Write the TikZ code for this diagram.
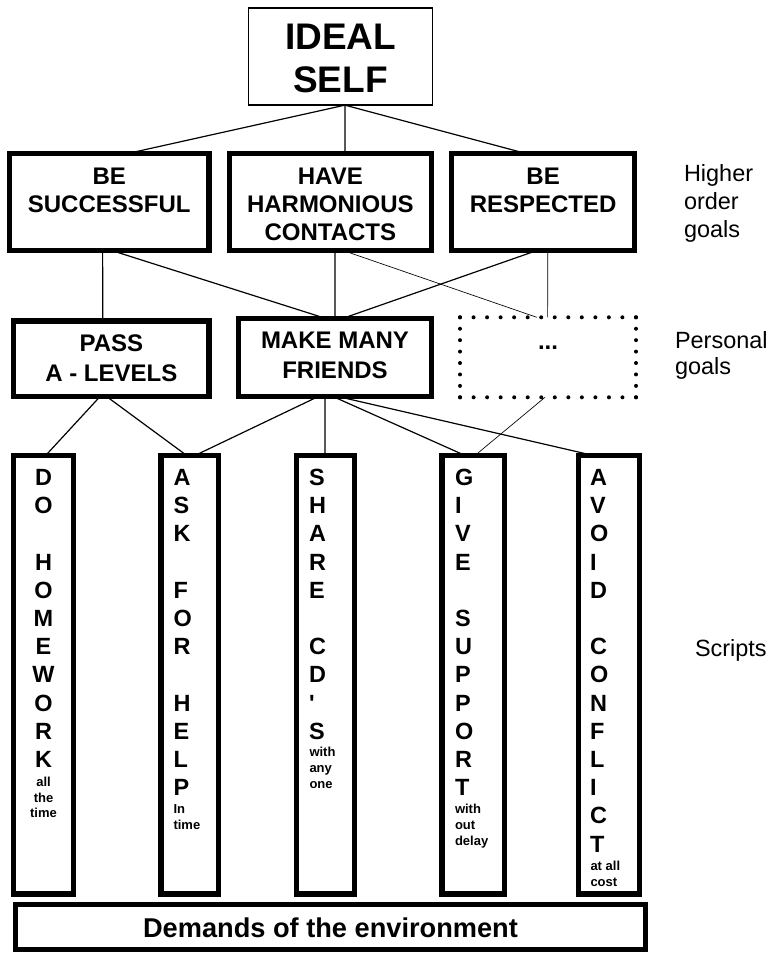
\documentclass[tikz,border=0pt]{standalone}
\usepackage{fontspec}
\setmainfont{Liberation Sans}
\usetikzlibrary{calc}
\newcommand\PX{0.75pt}
\newcommand\cstack[2]{\vtop{\baselineskip=#1\relax\lineskiplimit=-100pt\halign{\hfil##\hfil\cr#2\crcr}}}
\newcommand\lstack[2]{\vtop{\baselineskip=#1\relax\lineskiplimit=-100pt\halign{##\hfil\cr#2\crcr}}}
\begin{document}
\begin{tikzpicture}[x=0.75pt,y=-0.75pt,
  gbox/.style={draw, line width=4.1pt, rectangle, inner sep=0pt, outer sep=0pt},
  ibox/.style={draw, line width=1.25pt, rectangle, inner sep=0pt, outer sep=0pt},
  conn/.style={line width=0.9pt},
  thinconn/.style={line width=0.5pt},
  dotside/.style={line width=3pt, line cap=round},
  bigtxt/.style={inner sep=0pt, outer sep=0pt, font=\bfseries\fontsize{27.75}{32.5}\selectfont, anchor=base},
  ctxt/.style={inner sep=0pt, outer sep=0pt, font=\bfseries\fontsize{18}{21}\selectfont, anchor=base},
  coltxt/.style={inner sep=0pt, outer sep=0pt, font=\bfseries\fontsize{17.6}{21.15}\selectfont},
  smalltxt/.style={inner sep=0pt, outer sep=0pt, font=\bfseries\fontsize{9.75}{12}\selectfont},
  sidetxt/.style={inner sep=0pt, outer sep=0pt, font=\fontsize{17.6}{20.5}\selectfont, anchor=base west},
  demtxt/.style={inner sep=0pt, outer sep=0pt, font=\bfseries\fontsize{20.4}{24}\selectfont, anchor=base}
]
\useasboundingbox (0,0) rectangle (773,953);

% ---- boxes ----
\node[ibox, minimum width=183.9*\PX, minimum height=97*\PX] (ideal) at (340.5,56.65) {};
\node[gbox, minimum width=199.5*\PX, minimum height=97.1*\PX] (bs) at (109.2,202) {};
\node[gbox, minimum width=201.8*\PX, minimum height=97.1*\PX] (hhc) at (330.35,202) {};
\node[gbox, minimum width=182.8*\PX, minimum height=97.1*\PX] (br) at (543.15,202) {};
\node[gbox, minimum width=195.2*\PX, minimum height=75.5*\PX] (pass) at (111.35,358.8) {};
\node[gbox, minimum width=192.5*\PX, minimum height=77.8*\PX] (mmf) at (335,357.65) {};
\node[inner sep=0pt, outer sep=0pt, minimum width=176*\PX, minimum height=80*\PX] (dots) at (548,357.3) {};
\node[gbox, minimum width=59.5*\PX, minimum height=438.5*\PX] (do) at (43.5,674.7) {};
\node[gbox, minimum width=57.2*\PX, minimum height=438.5*\PX] (ask) at (189.65,674.7) {};
\node[gbox, minimum width=57.5*\PX, minimum height=438.5*\PX] (share) at (325.5,674.7) {};
\node[gbox, minimum width=62.2*\PX, minimum height=438.5*\PX] (give) at (473.15,674.7) {};
\node[gbox, minimum width=60.8*\PX, minimum height=438.5*\PX] (avoid) at (608.85,674.7) {};
\node[gbox, minimum width=629.5*\PX, minimum height=44.5*\PX] (dem) at (330.5,927) {};

% dotted box sides
\draw[dotside, dash pattern=on 0pt off 10.15pt] (dots.north west) -- (dots.north east);
\draw[dotside, dash pattern=on 0pt off 8.57pt] (dots.north east) -- (dots.south east);
\draw[dotside, dash pattern=on 0pt off 10.15pt] (dots.south east) -- (dots.south west);
\draw[dotside, dash pattern=on 0pt off 8.57pt] (dots.south west) -- (dots.north west);

% ---- texts ----
\node[bigtxt] (idealt) at (340.5,49.3) {\cstack{32.5pt}{IDEAL\cr SELF}};
\node[ctxt] (bst) at (109.2,184.3) {\cstack{20.9pt}{BE\cr SUCCESSFUL}};
\node[ctxt] (hhct) at (330.35,184.3) {\cstack{20.9pt}{HAVE\cr HARMONIOUS\cr CONTACTS}};
\node[ctxt] (brt) at (543.15,184.3) {\cstack{20.9pt}{BE\cr RESPECTED}};
\node[ctxt] (passt) at (111.35,351.7) {\cstack{22pt}{PASS\cr A - LEVELS}};
\node[ctxt] (mmft) at (335,348.3) {\cstack{22.5pt}{MAKE MANY\cr FRIENDS}};
\node[ctxt] (dotst) at (548,349) {...};

\node[coltxt, anchor=base] (dot1) at (43.5,485.5) {\cstack{21.15pt}{D\cr O\cr{}\cr H\cr O\cr M\cr E\cr W\cr O\cr R\cr K}};
\node[smalltxt, anchor=base] (dot2) at (43.5,786.5) {\cstack{11.8pt}{all\cr the\cr time}};
\node[coltxt, anchor=base west] (askt1) at (173.5,485.5) {\lstack{21.15pt}{A\cr S\cr K\cr{}\cr F\cr O\cr R\cr{}\cr H\cr E\cr L\cr P}};
\node[smalltxt, anchor=base west] (askt2) at (173.5,813.3) {\lstack{12pt}{In\cr time}};
\node[coltxt, anchor=base west] (sharet1) at (309,485.5) {\lstack{21.15pt}{S\cr H\cr A\cr R\cr E\cr{}\cr C\cr D\cr \textquotesingle\cr S}};
\node[smalltxt, anchor=base west] (sharet2) at (309.5,756.9) {\lstack{12pt}{with\cr any\cr one}};
\node[coltxt, anchor=base west] (givet1) at (455,485.5) {\lstack{21.15pt}{G\cr I\cr V\cr E\cr{}\cr S\cr U\cr P\cr P\cr O\cr R\cr T}};
\node[smalltxt, anchor=base west] (givet2) at (455,813.3) {\lstack{12pt}{with\cr out\cr delay}};
\node[coltxt, anchor=base west] (avoidt1) at (590,485.5) {\lstack{21.15pt}{A\cr V\cr O\cr I\cr D\cr{}\cr C\cr O\cr N\cr F\cr L\cr I\cr C\cr T}};
\node[smalltxt, anchor=base west] (avoidt2) at (590.5,870) {\lstack{12pt}{at all\cr cost}};

\node[demtxt] (demt) at (330.5,937) {Demands of the environment};

\node[sidetxt] (higher) at (684,181.7) {\lstack{20.85pt}{Higher\cr order\cr goals}};
\node[sidetxt] (personal) at (675,348.3) {\lstack{19.65pt}{Personal\cr goals}};
\node[sidetxt] (scripts) at (695,656.7) {Scripts};

% ---- connectors ----
\draw[conn] ($(ideal.south west)!.524!(ideal.south east)$) -- ($(bs.north west)!.594!(bs.north east)$);
\draw[conn] ($(ideal.south west)!.524!(ideal.south east)$) -- ($(hhc.north west)!.573!(hhc.north east)$);
\draw[conn] ($(ideal.south west)!.524!(ideal.south east)$) -- ($(br.north west)!.405!(br.north east)$);

\draw[conn] ($(bs.south west)!.467!(bs.south east)$) -- ($(pass.north west)!.456!(pass.north east)$);
\draw[conn] ($(bs.south west)!.513!(bs.south east)$) -- ($(mmf.north west)!.457!(mmf.north east)$);
\draw[conn] ($(hhc.south west)!.523!(hhc.south east)$) -- ($(mmf.north west)!.5!(mmf.north east)$);
\draw[thinconn] ($(hhc.south west)!.564!(hhc.south east)$) -- ($(dots.north west)!.436!(dots.north east)$);
\draw[conn] ($(br.south west)!.465!(br.south east)$) -- ($(mmf.north west)!.535!(mmf.north east)$);
\draw[thinconn] ($(br.south west)!.525!(br.south east)$) -- ($(dots.north west)!.498!(dots.north east)$);

\draw[conn] ($(pass.south west)!.442!(pass.south east)$) -- ($(do.north west)!.537!(do.north east)$);
\draw[conn] ($(pass.south west)!.476!(pass.south east)$) -- ($(ask.north west)!.448!(ask.north east)$);
\draw[conn] ($(mmf.south west)!.413!(mmf.south east)$) -- ($(ask.north west)!.594!(ask.north east)$);
\draw[conn] ($(mmf.south west)!.448!(mmf.south east)$) -- ($(share.north west)!.491!(share.north east)$);
\draw[conn] ($(mmf.south west)!.49!(mmf.south east)$) -- ($(give.north west)!.369!(give.north east)$);
\draw[conn] ($(mmf.south west)!.516!(mmf.south east)$) -- ($(avoid.north west)!.244!(avoid.north east)$);
\draw[thinconn] ($(dots.south west)!.483!(dots.south east)$) -- ($(give.north west)!.53!(give.north east)$);
\end{tikzpicture}
\end{document}
